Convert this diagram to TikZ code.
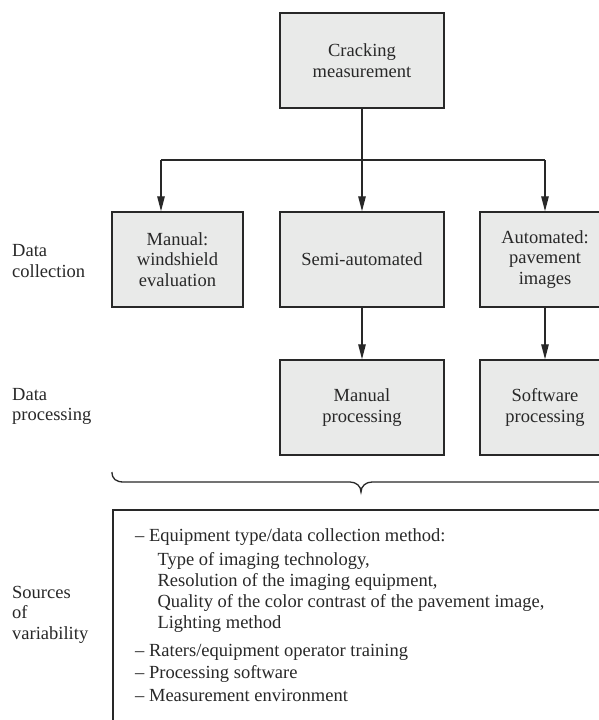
\documentclass[tikz,border=0pt]{standalone}
\usepackage{fontspec}
\setmainfont{Liberation Serif}
\usetikzlibrary{arrows.meta}
\definecolor{boxfill}{RGB}{233,234,233}
\definecolor{ink}{RGB}{40,40,40}
\begin{document}
\begin{tikzpicture}[x=1pt,y=-1pt,
  every node/.style={font=\fontsize{18.5}{20.7}\selectfont, text=ink},
  box/.style={draw=ink, fill=boxfill, line width=1.5pt, minimum height=95pt, inner sep=0pt, align=center},
  arr/.style={draw=ink, line width=1.3pt, -{Triangle[length=15pt,width=7.5pt]}},
  conn/.style={draw=ink, line width=1.3pt},
  lbl/.style={anchor=base west, inner sep=0pt},
  item/.style={anchor=base west, inner sep=0pt}
]
\useasboundingbox (0,0) rectangle (599,720);
\clip (0,0) rectangle (599,720);
\fill[white] (0,0) rectangle (599,720);

% boxes
\node[box, minimum width=164pt] (top) at (362,60.5) {Cracking\\measurement};
\node[box, minimum width=131pt] (r2a) at (177.5,259.5) {Manual:\\windshield\\evaluation};
\node[box, minimum width=164pt] (r2b) at (362,259.5) {Semi-automated};
\node[box, minimum width=130pt] (r2c) at (545,259.5) {Automated:\\pavement\\images};
\node[box, minimum width=164pt] (r3b) at (362,407.5) {Manual\\processing};
\node[box, minimum width=130pt] (r3c) at (545,407.5) {Software\\processing};

% connectors
\coordinate (split) at (362,160);
\coordinate (jl) at (161,160);
\coordinate (jr) at (545,160);
\draw[conn] (top.south) -- (split);
\draw[conn] (jl) -- (jr);
\draw[arr] (jl) -- (jl |- r2a.north);
\draw[arr] (split) -- (r2b.north);
\draw[arr] (jr) -- (r2c.north);
\draw[arr] (r2b.south) -- (r3b.north);
\draw[arr] (r2c.south) -- (r3c.north);

% brace
\draw[conn] (112,472) .. controls (112,479) and (116,482) .. (124,482) -- (350,482)
  .. controls (356,482) and (361,486) .. (361,492)
  .. controls (361,486) and (366,482) .. (372,482) -- (598,482)
  .. controls (606,482) and (610,479) .. (610,472);

% sources box
\node[draw=ink, line width=1.5pt, fill=white, minimum width=508pt, minimum height=240pt, inner sep=0pt, anchor=north west] (src) at (112,509) {};

\node[item] (l1) at (135,541.7) {– Equipment type/data collection method:};
\node[item] (l2) at (157.3,565) {Type of imaging technology,};
\node[item] (l3) at (157.3,586.7) {Resolution of the imaging equipment,};
\node[item] (l4) at (157.3,607.7) {Quality of the color contrast of the pavement image,};
\node[item] (l5) at (157.3,628.3) {Lighting method};
\node[item] (l6) at (135,656) {– Raters/equipment operator training};
\node[item] (l7) at (135,678) {– Processing software};
\node[item] (l8) at (135,701.7) {– Measurement environment};

% row labels
\node[lbl] (dc) at (12,256.7) {\begin{tabular}[t]{@{}l@{}}Data\\collection\end{tabular}};
\node[lbl] (dp) at (12,400) {\begin{tabular}[t]{@{}l@{}}Data\\processing\end{tabular}};
\node[lbl] (sv) at (12,598) {\begin{tabular}[t]{@{}l@{}}Sources\\of\\variability\end{tabular}};
\end{tikzpicture}
\end{document}
